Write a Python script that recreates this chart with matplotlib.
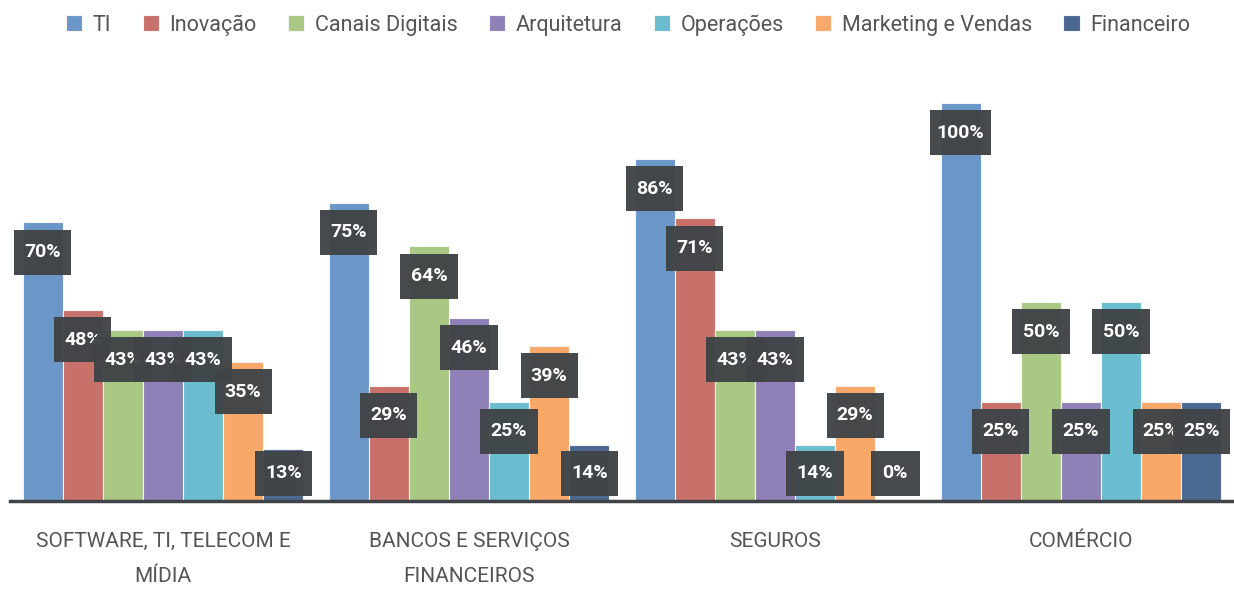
import matplotlib.pyplot as plt
from matplotlib.patches import Rectangle
import numpy as np

plt.rcParams['font.family'] = ['Roboto', 'DejaVu Sans']

categories = ['SOFTWARE, TI, TELECOM E\nMÍDIA', 'BANCOS E SERVIÇOS\nFINANCEIROS', 'SEGUROS', 'COMÉRCIO']
series = ['TI', 'Inovação', 'Canais Digitais', 'Arquitetura', 'Operações', 'Marketing e Vendas', 'Financeiro']
ti = [70, 75, 86, 100]
inovacao = [48, 29, 71, 25]
canais = [43, 64, 43, 50]
arquitetura = [43, 46, 43, 25]
operacoes = [43, 25, 14, 50]
marketing = [35, 39, 29, 25]
financeiro = [13, 14, 0, 25]
values = [ti, inovacao, canais, arquitetura, operacoes, marketing, financeiro]
colors = ['#6a96c8', '#c8706a', '#a8c884', '#9080b8', '#6abccf', '#f8a868', '#4a6890']

fig = plt.figure(figsize=(12.34, 5.89), dpi=100)
# axes: left 10px, right 1234px, baseline at y=501, 100% at y=103
ax = fig.add_axes([10 / 1234, (589 - 501) / 589, 1224 / 1234, 440 / 589])
ymax = 440 / 398 * 100
ax.set_ylim(0, ymax)
ax.set_xlim(-0.5, 3.5)

x = np.arange(len(categories))
w = 0.131
n = len(series)
box_h = 45 / 3.98
for i, (name, vals, c) in enumerate(zip(series, values, colors)):
    pos = x + (i - (n - 1) / 2) * w
    ax.bar(pos, vals, w, color=c, edgecolor='#f4f4f4', linewidth=0.8, label=name, zorder=2)
    for px, v in zip(pos, vals):
        yc = max(v - 7.5, 7.0)
        txt = f'{v}%'
        bw = {2: 0.16, 3: 0.187}.get(len(txt), 0.2)
        ax.add_patch(Rectangle((px - bw / 2, yc - box_h / 2), bw, box_h,
                               facecolor='#404447', edgecolor='none', alpha=0.97, zorder=10 + 2 * i))
        ax.text(px, yc, txt, ha='center', va='center', color='white', fontsize=14,
                fontweight='bold', zorder=11 + 2 * i)

for s in ['top', 'right', 'left']:
    ax.spines[s].set_visible(False)
ax.spines['bottom'].set_color('#404448')
ax.spines['bottom'].set_linewidth(2.5)
ax.spines['bottom'].set_zorder(30)
ax.set_yticks([])
ax.set_xticks(x)
ax.set_xticklabels(categories, fontsize=15, color='#555555', linespacing=2.1)
ax.tick_params(axis='x', length=0, pad=22)

fig.legend(loc='upper center', bbox_to_anchor=(0.509, 1.008), ncol=7, frameon=False,
           fontsize=15.5, handlelength=0.75, handleheight=0.75, handletextpad=0.5,
           columnspacing=1.45, labelcolor='#555555')

plt.savefig('out.png', dpi=100)
